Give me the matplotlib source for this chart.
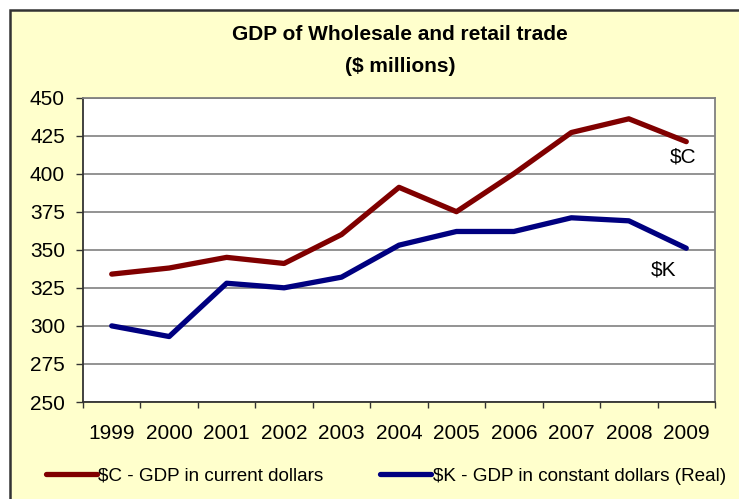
import matplotlib
matplotlib.use("Agg")
import matplotlib.pyplot as plt  # noqa: E402
from matplotlib.patches import Rectangle  # noqa: E402

years = ["1999", "2000", "2001", "2002", "2003", "2004", "2005", "2006", "2007", "2008", "2009"]
gdp_current = [334, 338, 345, 341, 360, 391, 375, 400, 427, 436, 421]
gdp_constant = [300, 293, 328, 325, 332, 353, 362, 362, 371, 369, 351]
y_ticks = [250, 275, 300, 325, 350, 375, 400, 425, 450]

plt.rcParams["font.family"] = ["Liberation Sans", "DejaVu Sans"]

W, H = 739, 499
figure = plt.figure(figsize=(W / 100, H / 100), dpi=100, facecolor="white")
figure.patches.append(Rectangle((10 / W, -0.1), 1.2, (H - 10) / H + 0.1, transform=figure.transFigure,
                                facecolor="#FFFFCC", edgecolor="#333333", linewidth=1.8, zorder=-1))

axis = figure.add_axes([83 / W, (H - 402) / H, 632 / W, 304.5 / H])
axis.set_facecolor("white")
x = list(range(len(years)))
axis.plot(x, gdp_current, color="#800000", linewidth=3.8, solid_capstyle="round",
          label="$C - GDP in current dollars")
axis.plot(x, gdp_constant, color="#000080", linewidth=3.8, solid_capstyle="round",
          label="$K - GDP in constant dollars (Real)")

axis.set_xlim(-0.5, len(years) - 0.5)
axis.set_ylim(y_ticks[0], y_ticks[-1])
axis.set_yticks(y_ticks)
axis.tick_params(axis="y", labelsize=15, direction="out", length=5, width=1, color="#333333", pad=8)
axis.set_xticks([i - 0.5 for i in range(len(years) + 1)])
axis.set_xticklabels([])
axis.set_xticks(x, minor=True)
axis.set_xticklabels(years, minor=True, fontsize=15)
axis.tick_params(axis="x", which="major", direction="out", length=4, width=1, color="#333333")
axis.tick_params(axis="x", which="minor", length=0, pad=16)
axis.grid(axis="y", color="#808080", linewidth=1.2)
axis.set_axisbelow(True)
for side in ("top", "right"):
    axis.spines[side].set_color("#808080")
    axis.spines[side].set_linewidth(1.3)
for side in ("left", "bottom"):
    axis.spines[side].set_color("#333333")
    axis.spines[side].set_linewidth(1.3)

axis.text(9.95, 411, "$C", fontsize=15, ha="center", va="center")
axis.text(9.6, 337, "$K", fontsize=15, ha="center", va="center")

figure.text(400 / W, 1 - 35 / H, "GDP of Wholesale and retail trade", fontsize=15, fontweight="bold",
            ha="center", va="center")
figure.text(400 / W, 1 - 66 / H, "($ millions)", fontsize=15, fontweight="bold", ha="center", va="center")

figure.legend(loc="center", bbox_to_anchor=(386 / W, 1 - 476 / H), ncol=2, frameon=False, fontsize=13.6,
              handlelength=2.7, handletextpad=0.1, columnspacing=3.0)

figure.savefig("out.png", dpi=100, facecolor=figure.get_facecolor())
